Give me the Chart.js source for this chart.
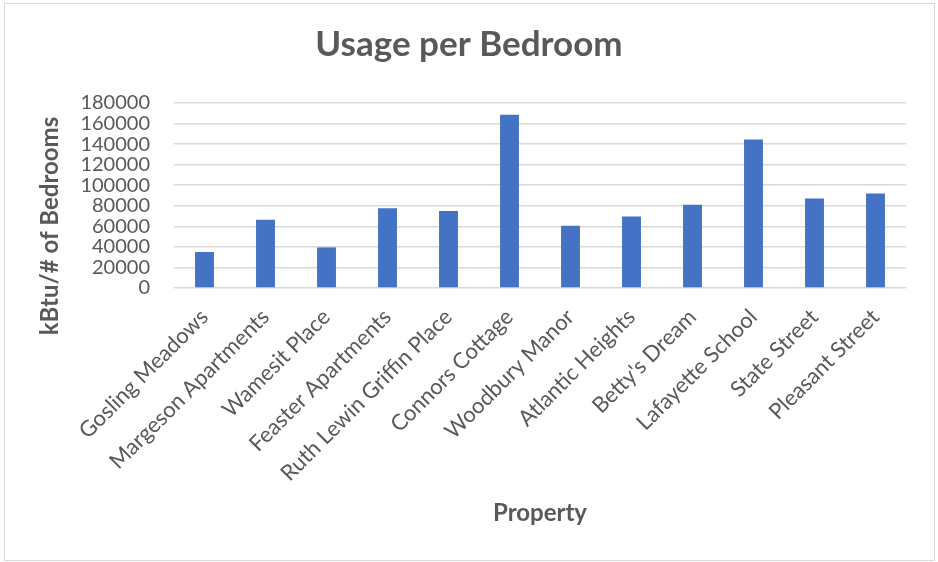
<!DOCTYPE html>
<html>
<head>
<meta charset="utf-8">
<title>Usage per Bedroom</title>
<script src="https://cdn.jsdelivr.net/npm/chart.js@4.4.1/dist/chart.umd.min.js"></script>
<style>
  html, body { margin: 0; padding: 0; background: #fff; }
  #wrap  { position: relative; width: 938px; height: 562px; }
  #frame { position: absolute; left: 4px; top: 3px; width: 929px; height: 556px;
           border: 1px solid #d9d9d9; pointer-events: none; }
  canvas { display: block; }
</style>
</head>
<body>
<div id="wrap">
  <canvas id="usageChart" width="938" height="562"></canvas>
  <div id="frame"></div>
</div>
<script>
// ── Data ─────────────────────────────────────────────────────
const properties = [
  'Gosling Meadows', 'Margeson Apartments', 'Wamesit Place', 'Feaster Apartments',
  'Ruth Lewin Griffin Place', 'Connors Cottage', 'Woodbury Manor', 'Atlantic Heights',
  "Betty's Dream", 'Lafayette School', 'State Street', 'Pleasant Street'
];
const usagePerBedroom = [
  35000, 66500, 39500, 77500, 75000, 168500,
  60500, 69500, 81000, 144500, 87000, 92000
];
const yMin  = 0;
const yMax  = 180000;
const yStep = 20000;

const chartTitle = 'Usage per Bedroom';
const xTitle     = 'Property';
const yTitle     = 'kBtu/# of Bedrooms';

// ── Style ────────────────────────────────────────────────────
const GREY  = '#595959';
const GRID  = '#d9d9d9';
const BAR   = '#4472c4';
const FONT  = 'Lato';

const SIDE_PAD    = 32;   // same on both sides keeps the title centred on the page
const PLOT_LEFT   = 174;
const PLOT_BOTTOM = 288;

// y-axis title drawn by hand so it can sit where Excel put it
const yTitlePlugin = {
  id: 'yTitle',
  afterDraw(chart) {
    const ctx = chart.ctx;
    ctx.save();
    ctx.translate(50, 226);
    ctx.rotate(-Math.PI / 2);
    ctx.font = `bold 24px ${FONT}`;
    ctx.fillStyle = GREY;
    ctx.textAlign = 'center';
    ctx.textBaseline = 'middle';
    ctx.fillText(yTitle, 0, 0);
    ctx.restore();
  }
};

new Chart(document.getElementById('usageChart'), {
  type: 'bar',
  data: {
    labels: properties,
    datasets: [{
      label: chartTitle,
      data: usagePerBedroom,
      backgroundColor: BAR,
      borderWidth: 0,
      categoryPercentage: 1,
      barPercentage: 0.31
    }]
  },
  options: {
    responsive: false,
    animation: false,
    layout: { padding: { left: SIDE_PAD, right: SIDE_PAD, top: 0, bottom: 0 } },
    plugins: {
      legend:  { display: false },
      tooltip: { enabled: false },
      title: {
        display: true,
        text: chartTitle,
        color: GREY,
        font: { family: FONT, size: 35, weight: 'bold' },
        padding: { top: 24, bottom: 37 }
      }
    },
    scales: {
      x: {
        grid:   { display: false },
        border: { display: false },
        ticks: {
          color: GREY, font: { family: FONT, size: 22 },
          minRotation: 45, maxRotation: 45, autoSkip: false, padding: 8
        },
        title: {
          display: true, text: xTitle, color: GREY,
          font: { family: FONT, size: 24, weight: 'bold' },
          padding: { top: 0, bottom: 34 }
        },
        afterFit(scale) { scale.height = 562 - PLOT_BOTTOM; }
      },
      y: {
        min: yMin, max: yMax,
        grid:   { color: GRID, lineWidth: 1.5, drawTicks: false },
        border: { display: false },
        ticks: {
          stepSize: yStep, autoSkip: false,
          color: GREY, font: { family: FONT, size: 20, lineHeight: 1 },
          padding: 24,
          callback: v => String(v)
        },
        afterFit(scale) { scale.width = PLOT_LEFT - SIDE_PAD; }
      }
    }
  },
  plugins: [yTitlePlugin]
});
</script>
</body>
</html>
